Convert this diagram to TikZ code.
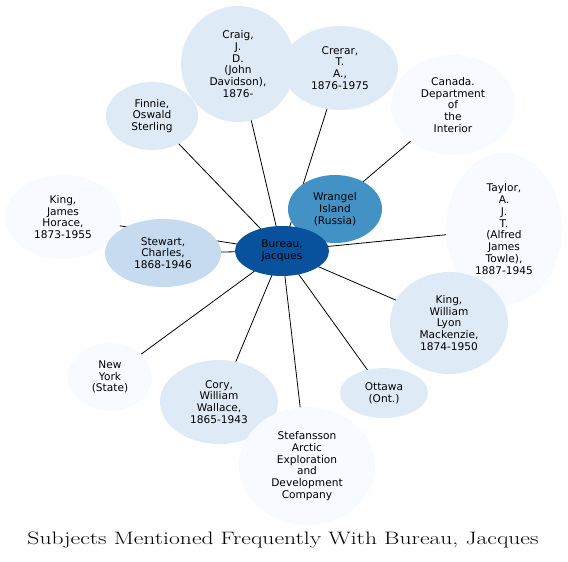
\documentclass[tikz,border=0pt]{standalone}
\usepackage{fontspec}
\usepackage{tikz}
\usetikzlibrary{shapes,positioning,calc}
\newfontfamily\nodefont{DejaVu Sans}
\definecolor{blueA}{HTML}{F7FBFF}
\definecolor{blueB}{HTML}{DEEBF7}
\definecolor{blueC}{HTML}{C6DBEF}
\definecolor{blueE}{HTML}{4292C6}
\definecolor{blueH}{HTML}{08519C}
\pgfdeclarelayer{edges}
\pgfsetlayers{edges,main}
\tikzset{
  subj/.style={ellipse, inner sep=0pt, align=center,
    font=\nodefont\fontsize{10.6}{11.8}\selectfont},
  link/.style={black, line width=0.8pt}
}
\begin{document}
\begin{tikzpicture}[x=1pt,y=-1pt]
            \useasboundingbox (0,0) rectangle (568,562);

            % outer ring
            \node[subj, fill=blueB, minimum width=114pt, minimum height=116pt] (Craig) at (238,64) {Craig,\\J.\\D.\\(John\\Davidson),\\1876-};
            \node[subj, fill=blueB, minimum width=116pt, minimum height=84pt] (Crerar) at (340,68) {Crerar,\\T.\\A.,\\1876-1975};
            \node[subj, fill=blueB, minimum width=92pt, minimum height=68pt] (Finnie) at (152,116) {Finnie,\\Oswald\\Sterling};
            \node[subj, fill=blueA, minimum width=124pt, minimum height=100pt] (Canada) at (453,105) {Canada.\\Department\\of\\the\\Interior};
            \node[subj, fill=blueA, minimum width=116pt, minimum height=152pt] (Taylor) at (504,229) {Taylor,\\A.\\J.\\T.\\(Alfred\\James\\Towle),\\1887-1945};
            \node[subj, fill=blueA, minimum width=116pt, minimum height=84pt] (KingJames) at (63,217) {King,\\James\\Horace,\\1873-1955};
            \node[subj, fill=blueC, minimum width=116pt, minimum height=68pt] (Stewart) at (163,253) {Stewart,\\Charles,\\1868-1946};
            \node[subj, fill=blueB, minimum width=118pt, minimum height=102pt] (KingWilliam) at (449,323) {King,\\William\\Lyon\\Mackenzie,\\1874-1950};
            \node[subj, fill=blueA, minimum width=84pt, minimum height=68pt] (NewYork) at (110,377) {New\\York\\(State)};
            \node[subj, fill=blueB, minimum width=88pt, minimum height=50pt] (Ottawa) at (384,393) {Ottawa\\(Ont.)};
            \node[subj, fill=blueB, minimum width=118pt, minimum height=84pt] (Cory) at (219,402) {Cory,\\William\\Wallace,\\1865-1943};
            \node[subj, fill=blueA, minimum width=136pt, minimum height=118pt] (Stefansson) at (307,466) {Stefansson\\Arctic\\Exploration\\and\\Development\\Company};

            % inner nodes
            \node[subj, fill=blueE, minimum width=94pt, minimum height=68pt] (Wrangel) at (335,209) {Wrangel\\Island\\(Russia)};
            \node[subj, fill=blueH, minimum width=94pt, minimum height=50pt] (Bureau) at (282,251) {Bureau,\\Jacques};

            % links behind the nodes
            \begin{pgfonlayer}{edges}
            \foreach \other in {Craig,Crerar,Finnie,Canada,Taylor,KingJames,Stewart,KingWilliam,NewYork,Ottawa,Cory,Stefansson,Wrangel}
                \draw[link] (Bureau.center) -- (\other.center);
            \end{pgfonlayer}

            % title
            \node[font=\fontsize{18}{20}\selectfont] (title) at (283,540) {\scalebox{1.31}[1]{Subjects Mentioned Frequently With Bureau, Jacques}};
\end{tikzpicture}
\end{document}
